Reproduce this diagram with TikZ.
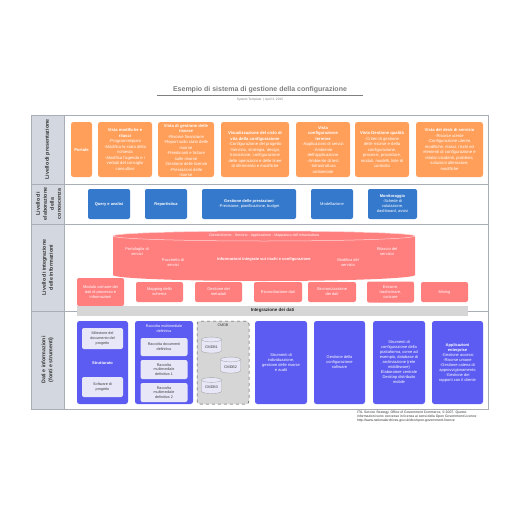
\documentclass[tikz,border=0pt]{standalone}
\usepackage{fontspec}
\setmainfont{Liberation Sans}
\usetikzlibrary{shapes.geometric}

\definecolor{framegray}{HTML}{A9AEB6}
\definecolor{sidegray}{HTML}{D3D8E0}
\definecolor{vistaorange}{HTML}{FF9F5A}
\definecolor{toolblue}{HTML}{3579CC}
\definecolor{mapred}{HTML}{FF7E7E}
\definecolor{bargray}{HTML}{D6D6D6}
\definecolor{fontepurple}{HTML}{5C5CF2}
\definecolor{innerlav}{HTML}{E7E7F8}
\definecolor{titlegray}{HTML}{7F7F7F}

\newcommand{\boxfont}{\fontsize{4.2}{5.5}\selectfont}
\newcommand{\smallfont}{\fontsize{4}{5}\selectfont}
\newcommand{\innerfont}{\fontsize{3.7}{4.7}\selectfont}
\newcommand{\labelfont}{\fontsize{5.3}{7}\selectfont}

\begin{document}
\begin{tikzpicture}[x=1pt,y=-1pt,
    vista/.style={fill=vistaorange, rounded corners=2.5pt, text=white, font=\boxfont, align=center, inner sep=1pt},
    strumento/.style={fill=toolblue, rounded corners=2pt, text=white, font=\smallfont, align=center, inner sep=1pt},
    mappa/.style={fill=mapred, rounded corners=2pt, text=white, font=\smallfont, align=center, inner sep=1pt},
    fonte/.style={fill=fontepurple, rounded corners=2.5pt, text=white, font=\smallfont, align=center, inner sep=1pt},
    interno/.style={fill=innerlav, rounded corners=2pt, text=black!75, font=\innerfont, align=center, inner sep=1pt},
    archivio/.style={fill=bargray, draw=black!70, dashed, rounded corners=3pt, line width=0.5pt},
    banca/.style={cylinder, shape border rotate=90, aspect=0.3, draw=black!35, fill=innerlav, text=black!75, font=\innerfont, inner sep=1.5pt},
    livello/.style={rotate=90, font=\labelfont\bfseries, align=center, text=black!80},
    riga/.style={draw=framegray, line width=0.8pt}]

    \fill[white] (0,0) rectangle (516,516);
    \useasboundingbox (0,0) rectangle (516,516);

    % Title
    \node[font=\fontsize{7}{8}\selectfont\bfseries, text=titlegray] (title) at (260,90) {Esempio di sistema di gestione della configurazione};
    \draw[titlegray, line width=0.6pt] (157,95) -- (363,95);
    \node[font=\fontsize{3.2}{4}\selectfont, text=titlegray] (subtitle) at (260,100) {System Template \,|\, April 3, 2015};

    % Frame and level column
    \fill[sidegray] (31,115) rectangle (64,409);
    \draw[riga] (31,115) rectangle (488,409);
    \draw[riga] (64,115) -- (64,409);
    \draw[riga] (31,184) -- (488,184);
    \draw[riga] (31,224) -- (488,224);
    \draw[riga] (31,311) -- (488,311);

    % Level labels
    \node[livello] (lpres) at (47.5,149.5) {Livello di presentazione};
    \node[livello] (lcon) at (48.5,204) {Livello di\\elaborazione\\della\\conoscenza};
    \node[livello] (linteg) at (47.5,267.5) {Livello di integrazione\\delle informazioni};
    \node[livello] (ldati) at (47.5,360) {Dati e informazioni\\(fonti e strumenti)};

    % Presentation level
    \node[vista, minimum width=21pt, minimum height=55pt] (portale) at (81.5,149.5) {\textbf{Portale}};
    \node[vista, minimum width=54pt, minimum height=55pt] (rilasci) at (125,149.5) {\textbf{Vista modifiche e}\\\textbf{rilasci}\\-Programmi/piani\\-Modifica lo stato della\\richiesta\\-Modifica l'agenda e i\\verbali del consiglio\\consultivo};
    \node[vista, minimum width=56pt, minimum height=55pt] (risorse) at (186,149.5) {};
    \node[font=\boxfont, text=white, align=center, anchor=north, inner sep=0pt] (risorsetesto) at (186,124) {\textbf{Vista di gestione delle}\\\textbf{risorse}\\-Risorse finanziarie\\-Report sullo stato delle\\risorse\\-Rendiconti e fatture\\sulle risorse\\-Gestione delle licenze\\-Prestazioni delle\\risorse};
    \node[vista, minimum width=68pt, minimum height=55pt] (ciclo) at (255,149.5) {\textbf{Visualizzazione del ciclo di}\\\textbf{vita della configurazione}\\-Configurazione del progetto\\-Servizio, strategia, design,\\transizione, configurazione\\delle operazioni e delle linee\\di riferimento e modifiche};
    \node[vista, minimum width=54pt, minimum height=55pt] (termine) at (323,149.5) {\textbf{Vista}\\\textbf{configurazione}\\\textbf{termine}\\-Applicazioni di servizi\\-Ambiente\\dell'applicazione\\-Ambiente di test\\-Infrastruttura\\ambientale};
    \node[vista, minimum width=54pt, minimum height=55pt] (qualita) at (382,149.5) {\textbf{Vista Gestione qualità}\\-Criteri di gestione\\delle risorse e della\\configurazione,\\processi, procedure,\\moduli, modelli, liste di\\controllo};
    \node[vista, minimum width=67pt, minimum height=55pt] (desk) at (449.5,149.5) {\textbf{Vista del desk di servizio}\\-Risorse utente\\-Configurazione utente,\\modifiche, rilasci, rischi ed\\elementi di configurazione e\\relativi incidenti, problemi,\\soluzioni alternative,\\modifiche};

    % Knowledge processing level
    \node[strumento, minimum width=42pt, minimum height=30pt] (query) at (109,204) {\textbf{Query e analisi}};
    \node[strumento, minimum width=42pt, minimum height=30pt] (report) at (166,204) {\textbf{Reportistica}};
    \node[strumento, minimum width=94pt, minimum height=30pt] (prestazioni) at (249,204) {\textbf{Gestione delle prestazioni}\\-Previsione, pianificazione, budget};
    \node[strumento, minimum width=42pt, minimum height=30pt] (modelli) at (332,204) {Modellazione};
    \node[strumento, minimum width=49pt, minimum height=30pt] (monitor) at (392.5,204) {\textbf{Monitoraggio}\\-Schede di\\valutazione,\\dashboard, avvisi};

    % Information integration level
    \fill[mapred] (113,236) -- (113,275) arc[start angle=180, end angle=0, x radius=151, y radius=6]
        -- (415,236) arc[start angle=0, end angle=-180, x radius=151, y radius=5] -- cycle;
    \draw[white!70!mapred, line width=0.5pt] (264,236) ellipse[x radius=151, y radius=5];
    \node[font=\fontsize{3.6}{4.5}\selectfont, text=white] (vista) at (264,235.5) {Cliente/Utente - Servizio - Applicazione - Mappatura dell'infrastruttura};
    \node[font=\smallfont, text=white, align=center] (portafoglio) at (137,252) {Portafoglio di\\servizi};
    \node[font=\smallfont, text=white, align=center] (pacchetto) at (173,263) {Pacchetto di\\servizi};
    \node[font=\smallfont\bfseries, text=white] (rischi) at (264,259) {Informazioni integrate sui rischi e configurazione};
    \node[font=\smallfont, text=white, align=center] (modifica) at (348,263) {Modifica del\\servizio};
    \node[font=\smallfont, text=white, align=center] (rilascio) at (387,252) {Rilascio del\\servizio};

    \node[mappa, minimum width=47pt, minimum height=28pt] (modulo) at (100.5,292) {Modulo comune dei\\dati di processo e\\informazioni};
    \node[mappa, minimum width=47pt, minimum height=20pt] (schema) at (159.5,292) {Mapping dello\\schema};
    \node[mappa, minimum width=47pt, minimum height=20pt] (metadati) at (218.5,292) {Gestione dei\\metadati};
    \node[mappa, minimum width=48pt, minimum height=20pt] (riconc) at (278,292) {Riconciliazione dati};
    \node[mappa, minimum width=48pt, minimum height=20pt] (sincro) at (332,292) {Sincronizzazione\\dei dati};
    \node[mappa, minimum width=47pt, minimum height=21pt] (etl) at (390.5,292) {Estrarre,\\trasformare,\\caricare};
    \node[mappa, minimum width=47pt, minimum height=20pt] (mining) at (444.5,292) {Mining};

    \node[fill=bargray, minimum width=391pt, minimum height=10pt, inner sep=0pt, font=\fontsize{4.5}{5}\selectfont\bfseries, text=black!85] (integrazione) at (272.5,310.5) {Integrazione dei dati};

    % Data and information level
    \node[fonte, minimum width=51pt, minimum height=83pt] (progetto) at (102.5,362.5) {};
    \node[interno, minimum width=41pt, minimum height=21pt] (milestone) at (102.5,338.5) {Milestone del\\documento del\\progetto};
    \node[font=\smallfont\bfseries, text=white] (strutturato) at (102.5,363) {Strutturato};
    \node[interno, minimum width=41pt, minimum height=20pt] (software) at (102.5,387) {Software di\\progetto};

    \node[fonte, minimum width=58pt, minimum height=83pt] (raccolta) at (164,362.5) {};
    \node[font=\innerfont, text=white, align=center] (raccoltatit) at (164,328.5) {Raccolta multimediale\\definitiva};
    \node[interno, minimum width=47pt, minimum height=18pt] (documenti) at (164,347) {Raccolta documenti\\definitiva};
    \node[interno, minimum width=47pt, minimum height=19pt] (media1) at (164,369.5) {Raccolta\\multimediale\\definitiva 1};
    \node[interno, minimum width=47pt, minimum height=19pt] (media2) at (164,392.5) {Raccolta\\multimediale\\definitiva 2};

    \node[archivio, minimum width=52pt, minimum height=83pt] (cmdb) at (223,362.5) {};
    \node[font=\innerfont, text=black!75] (cmdbtit) at (223,325.5) {CMDB};
    \node[banca, minimum width=20pt, minimum height=16pt] (cmdb1) at (211.5,347) {CMDB1};
    \node[banca, minimum width=20pt, minimum height=16pt] (cmdb2) at (230.5,367) {CMDB2};
    \node[banca, minimum width=20pt, minimum height=16pt] (cmdb3) at (211.5,387.5) {CMDB3};

    \node[fonte, minimum width=52pt, minimum height=83pt] (audit) at (281,362.5) {Strumenti di\\individuazione,\\gestione delle risorse\\e audit};
    \node[fonte, minimum width=51pt, minimum height=83pt] (softconf) at (339.5,362.5) {Gestione della\\configurazione\\software};
    \node[fonte, minimum width=52pt, minimum height=83pt] (piattaforma) at (399,362.5) {Strumenti di\\configurazione della\\piattaforma, come ad\\esempio, database di\\archiviazione (rete\\middleware)\\Elaboratore centrale\\Desktop distribuito\\mobile};
    \node[fonte, minimum width=51pt, minimum height=83pt] (enterprise) at (457.5,362.5) {\textbf{Applicazioni}\\\textbf{enterprise}\\-Gestione accessi\\-Risorse umane\\-Gestione catena di\\approvvigionamento\\-Gestione dei\\rapporti con il cliente};

    % Source note
    \node[font=\fontsize{3.4}{4}\selectfont, text=black!80, align=left, anchor=north west, inner sep=0pt] (nota) at (357,410.5) {ITIL Service Strategy, Office of Government Commerce, © 2007. Queste\\informazioni sono concesse in licenza ai sensi della Open Government Licence\\http://www.nationalarchives.gov.uk/doc/open-government-licence};

\end{tikzpicture}
\end{document}
